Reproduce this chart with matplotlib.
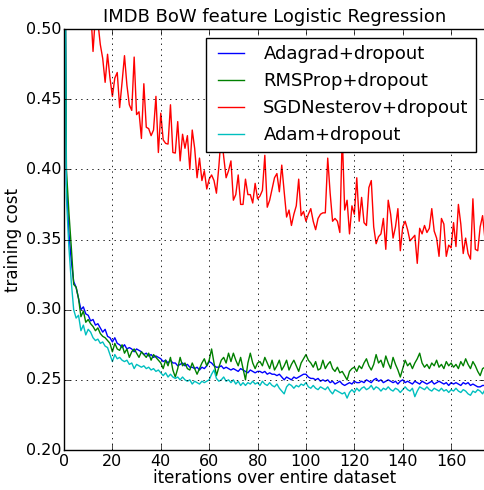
import matplotlib
matplotlib.use('Agg')
import matplotlib.pyplot as plt
import numpy as np

plt.style.use('classic')

# training cost per iteration
adagrad = [
    0.69, 0.39, 0.355, 0.335, 0.320, 0.316, 0.308, 0.300, 0.302, 0.297,
    0.296, 0.292, 0.293, 0.289, 0.290, 0.287, 0.284, 0.286, 0.281, 0.280,
    0.277, 0.280, 0.276, 0.275, 0.273, 0.275, 0.272, 0.273, 0.272, 0.270,
    0.272, 0.271, 0.270, 0.268, 0.269, 0.267, 0.268, 0.266, 0.267, 0.266,
    0.265, 0.263, 0.264, 0.262, 0.264, 0.262, 0.262, 0.260, 0.261, 0.262,
    0.260, 0.261, 0.259, 0.259, 0.258, 0.259, 0.257, 0.259, 0.258, 0.260,
    0.263, 0.262, 0.260, 0.259, 0.259, 0.260, 0.258, 0.259, 0.258, 0.257,
    0.258, 0.257, 0.256, 0.258, 0.257, 0.256, 0.255, 0.257, 0.256, 0.255,
    0.256, 0.256, 0.255, 0.256, 0.254, 0.255, 0.254, 0.254, 0.253, 0.254,
    0.252, 0.250, 0.252, 0.251, 0.250, 0.252, 0.251, 0.252, 0.253, 0.254,
    0.254, 0.252, 0.251, 0.251, 0.250, 0.251, 0.249, 0.250, 0.249, 0.250,
    0.248, 0.249, 0.247, 0.248, 0.249, 0.247, 0.246, 0.247, 0.248, 0.247,
    0.249, 0.248, 0.248, 0.249, 0.248, 0.250, 0.249, 0.248, 0.250, 0.251,
    0.249, 0.250, 0.248, 0.249, 0.250, 0.249, 0.248, 0.249, 0.247, 0.249,
    0.250, 0.248, 0.249, 0.248, 0.247, 0.249, 0.248, 0.247, 0.249, 0.248,
    0.247, 0.248, 0.249, 0.247, 0.248, 0.249, 0.248, 0.247, 0.248, 0.246,
    0.248, 0.247, 0.248, 0.247, 0.246, 0.248, 0.247, 0.248, 0.246, 0.247,
    0.246, 0.245, 0.245, 0.246, 0.246,
]

rmsprop = [
    0.69, 0.40, 0.37, 0.345, 0.318, 0.316, 0.308, 0.295, 0.299, 0.291,
    0.293, 0.290, 0.288, 0.285, 0.287, 0.283, 0.281, 0.280, 0.278, 0.276,
    0.270, 0.276, 0.272, 0.271, 0.275, 0.269, 0.272, 0.266, 0.270, 0.272,
    0.269, 0.266, 0.270, 0.268, 0.266, 0.269, 0.264, 0.268, 0.266, 0.264,
    0.262, 0.258, 0.264, 0.260, 0.266, 0.257, 0.252, 0.258, 0.266, 0.260,
    0.262, 0.258, 0.257, 0.262, 0.258, 0.254, 0.258, 0.262, 0.265, 0.260,
    0.264, 0.272, 0.262, 0.253, 0.259, 0.264, 0.266, 0.262, 0.269, 0.263,
    0.269, 0.264, 0.260, 0.266, 0.258, 0.250, 0.262, 0.269, 0.262, 0.258,
    0.262, 0.263, 0.260, 0.266, 0.262, 0.258, 0.264, 0.257, 0.260, 0.264,
    0.257, 0.260, 0.264, 0.257, 0.261, 0.264, 0.260, 0.256, 0.262, 0.265,
    0.268, 0.264, 0.262, 0.259, 0.263, 0.257, 0.258, 0.264, 0.258, 0.261,
    0.263, 0.258, 0.256, 0.259, 0.255, 0.256, 0.253, 0.250, 0.256, 0.258,
    0.259, 0.256, 0.260, 0.258, 0.262, 0.265, 0.260, 0.257, 0.261, 0.268,
    0.262, 0.264, 0.259, 0.267, 0.262, 0.258, 0.266, 0.261, 0.257, 0.252,
    0.258, 0.264, 0.260, 0.262, 0.258, 0.262, 0.265, 0.269, 0.262, 0.259,
    0.261, 0.258, 0.262, 0.260, 0.264, 0.259, 0.261, 0.258, 0.263, 0.260,
    0.262, 0.259, 0.261, 0.258, 0.263, 0.260, 0.265, 0.261, 0.258, 0.263,
    0.260, 0.256, 0.253, 0.258, 0.259,
]

sgd_nesterov = [
    0.69, 0.64, 0.61, 0.59, 0.57, 0.56, 0.55, 0.545, 0.535, 0.53,
    0.52, 0.515, 0.484, 0.51, 0.505, 0.489, 0.479, 0.462, 0.482, 0.465,
    0.452, 0.465, 0.469, 0.444, 0.462, 0.481, 0.460, 0.446, 0.442, 0.480,
    0.439, 0.441, 0.422, 0.461, 0.430, 0.429, 0.424, 0.428, 0.452, 0.412,
    0.440, 0.421, 0.4185, 0.418, 0.446, 0.412, 0.4116, 0.434, 0.406, 0.425,
    0.415, 0.424, 0.400, 0.428, 0.415, 0.394, 0.408, 0.392, 0.399, 0.386,
    0.393, 0.396, 0.392, 0.383, 0.402, 0.425, 0.409, 0.394, 0.399, 0.406,
    0.378, 0.382, 0.396, 0.375, 0.375, 0.393, 0.382, 0.382, 0.376, 0.390,
    0.379, 0.381, 0.385, 0.410, 0.373, 0.378, 0.386, 0.394, 0.397, 0.384,
    0.403, 0.384, 0.366, 0.371, 0.360, 0.368, 0.374, 0.393, 0.367, 0.370,
    0.363, 0.368, 0.372, 0.363, 0.357, 0.365, 0.368, 0.369, 0.369, 0.408,
    0.383, 0.363, 0.365, 0.363, 0.355, 0.425, 0.371, 0.378, 0.354, 0.374,
    0.368, 0.394, 0.363, 0.380, 0.362, 0.360, 0.387, 0.392, 0.359, 0.347,
    0.352, 0.354, 0.365, 0.343, 0.378, 0.368, 0.351, 0.359, 0.372, 0.342,
    0.359, 0.363, 0.357, 0.349, 0.351, 0.353, 0.333, 0.358, 0.354, 0.360,
    0.355, 0.358, 0.372, 0.356, 0.351, 0.338, 0.365, 0.361, 0.338, 0.346,
    0.344, 0.362, 0.345, 0.375, 0.361, 0.340, 0.351, 0.340, 0.336, 0.379,
    0.343, 0.342, 0.359, 0.367, 0.350,
]

adam = [
    0.69, 0.38, 0.345, 0.32, 0.300, 0.294, 0.296, 0.285, 0.289, 0.282,
    0.286, 0.284, 0.280, 0.278, 0.279, 0.276, 0.277, 0.274, 0.273, 0.268,
    0.263, 0.268, 0.265, 0.266, 0.264, 0.263, 0.264, 0.261, 0.262, 0.258,
    0.261, 0.260, 0.259, 0.260, 0.258, 0.259, 0.257, 0.258, 0.256, 0.257,
    0.255, 0.253, 0.255, 0.252, 0.254, 0.252, 0.251, 0.252, 0.250, 0.252,
    0.250, 0.249, 0.250, 0.247, 0.249, 0.248, 0.247, 0.249, 0.248, 0.249,
    0.250, 0.254, 0.257, 0.251, 0.249, 0.250, 0.252, 0.249, 0.250, 0.248,
    0.250, 0.247, 0.249, 0.246, 0.248, 0.246, 0.248, 0.247, 0.249, 0.247,
    0.248, 0.246, 0.249, 0.247, 0.246, 0.248, 0.246, 0.245, 0.247, 0.244,
    0.242, 0.240, 0.245, 0.247, 0.246, 0.244, 0.246, 0.245, 0.247, 0.246,
    0.248, 0.245, 0.244, 0.246, 0.244, 0.243, 0.245, 0.244, 0.243, 0.245,
    0.242, 0.240, 0.243, 0.242, 0.241, 0.240, 0.241, 0.237, 0.241, 0.243,
    0.241, 0.244, 0.242, 0.244, 0.245, 0.243, 0.244, 0.246, 0.243, 0.245,
    0.244, 0.242, 0.244, 0.243, 0.245, 0.243, 0.242, 0.244, 0.243, 0.241,
    0.243, 0.245, 0.243, 0.242, 0.244, 0.238, 0.242, 0.245, 0.244, 0.243,
    0.245, 0.243, 0.242, 0.244, 0.243, 0.242, 0.244, 0.242, 0.243, 0.241,
    0.243, 0.242, 0.244, 0.242, 0.241, 0.243, 0.242, 0.240, 0.239, 0.242,
    0.241, 0.243, 0.242, 0.240, 0.243,
]

series = [
    ('Adagrad+dropout', adagrad, 'b'),
    ('RMSProp+dropout', rmsprop, 'g'),
    ('SGDNesterov+dropout', sgd_nesterov, 'r'),
    ('Adam+dropout', adam, 'c'),
]

fig = plt.figure(figsize=(4.85, 4.9), dpi=100, facecolor='white')
ax = fig.add_axes([64 / 485, 40 / 490, 421 / 485, 421 / 490])

for label, vals, col in series:
    ax.plot(np.arange(len(vals)), vals, color=col, lw=1.0, label=label)

ax.set_xlim(0, 174)
ax.set_ylim(0.20, 0.50)
ax.set_xticks(np.arange(0, 161, 20))
ax.set_yticks(np.arange(0.20, 0.501, 0.05))
ax.set_yticklabels([f'{v:.2f}' for v in np.arange(0.20, 0.501, 0.05)])
ax.tick_params(labelsize=11.5)
ax.tick_params(axis='x', pad=3)
ax.tick_params(axis='y', pad=2)
ax.grid(True, color='k', linestyle=':', linewidth=0.6)

ax.set_title('IMDB BoW feature Logistic Regression', fontsize=13)
ax.set_xlabel('iterations over entire dataset', fontsize=12, labelpad=0)
ax.set_ylabel('training cost', fontsize=12, labelpad=3)
ax.legend(loc='upper right', fontsize=13)

fig.savefig('out.png', dpi=100, facecolor='white')
